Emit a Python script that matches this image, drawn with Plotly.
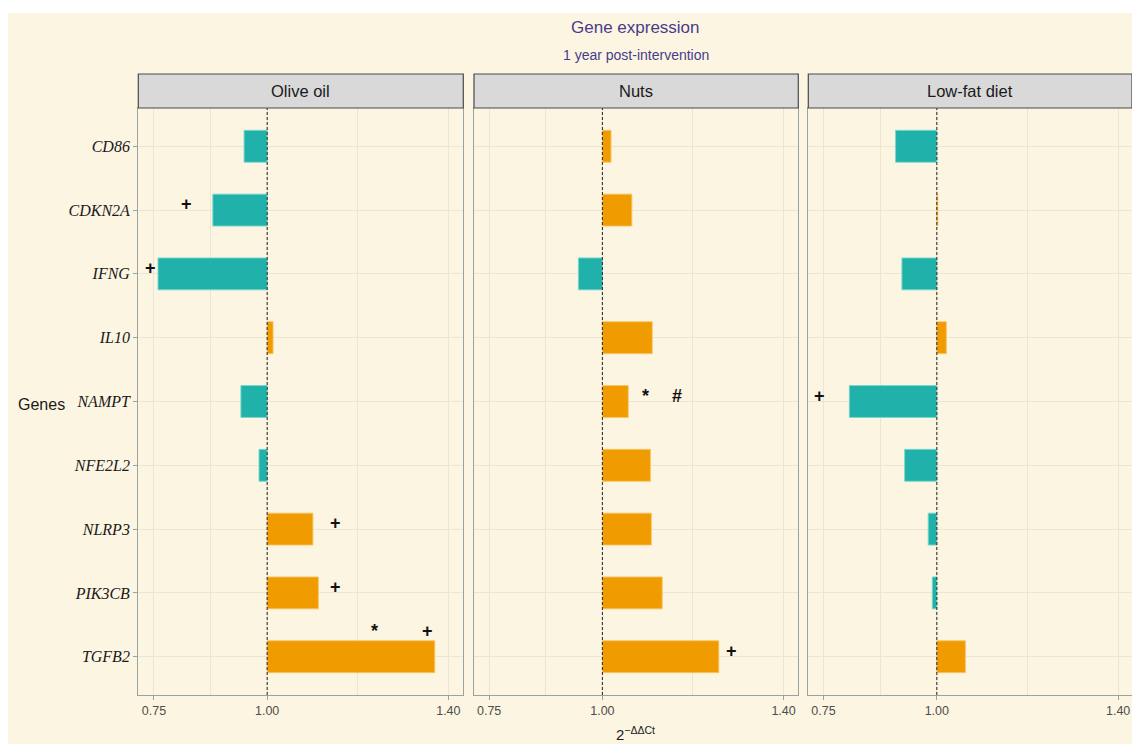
import plotly.graph_objects as go

# ---- data -------------------------------------------------------------
genes = ["CD86", "CDKN2A", "IFNG", "IL10", "NAMPT", "NFE2L2", "NLRP3", "PIK3CB", "TGFB2"]
diets = ["Olive oil", "Nuts", "Low-fat diet"]

olive_oil = [0.949, 0.880, 0.759, 1.013, 0.942, 0.982, 1.101, 1.113, 1.370]
nuts      = [1.019, 1.065, 0.947, 1.110, 1.057, 1.106, 1.108, 1.132, 1.257]
low_fat   = [0.909, 1.002, 0.923, 1.021, 0.807, 0.929, 0.981, 0.990, 1.063]

# significance marks: (panel index, gene, x position, symbol, lift in px)
marks_panel  = [0, 0, 0, 0, 0, 0, 1, 1, 1, 2]
marks_gene   = ["CDKN2A", "IFNG", "NLRP3", "PIK3CB", "TGFB2", "TGFB2", "NAMPT", "NAMPT", "TGFB2", "NAMPT"]
marks_x      = [0.823, 0.743, 1.151, 1.151, 1.236, 1.353, 1.096, 1.164, 1.285, 0.741]
marks_symbol = ["+", "+", "+", "+", "*", "+", "*", "#", "+", "+"]
marks_lift   = [6, 6, 6, 6, 26, 26, 6, 6, 6, 6]

x_ticks = [0.75, 1.00, 1.40]
x_minor = [0.875, 1.20]

# ---- styling ----------------------------------------------------------
W, H = 1132, 744
BG = "#FCF5E2"
GRID = "#ECE5D3"
BORDER = "#9AA3A3"
TEAL = "#20B2AA"
ORANGE = "#F09B00"
TITLE_COL = "#483D8B"

panel_px = [(138.3, 463.3), (474.0, 798.3), (808.3, 1132.0)]
x_ranges = [[0.7155, 1.4330], [0.7165, 1.4325], [0.7165, 1.4305]]
panel_top, panel_bottom = 108, 695
strip_top = 74

def fx(px):
    return px / W

def fy(py):
    return (H - py) / H

values = [olive_oil, nuts, low_fat]

fig = go.Figure()

shapes = [
    # framed beige background
    dict(type="rect", xref="paper", yref="paper", x0=fx(8), x1=1.0, y0=0, y1=fy(13),
         fillcolor=BG, line=dict(width=0), layer="below"),
]
annotations = []

for i, (diet, vals) in enumerate(zip(diets, values)):
    sfx = "" if i == 0 else str(i + 1)
    xa, ya = "x" + sfx, "y" + sfx
    colors = [TEAL if v < 1 else ORANGE for v in vals]
    outline = ["rgba(120,215,205,0.9)" if v < 1 else "rgba(248,196,100,0.9)" for v in vals]
    fig.add_trace(go.Bar(
        y=genes, x=[v - 1 for v in vals], base=1, orientation="h",
        width=0.5, marker=dict(color=colors, line=dict(color=outline, width=1)),
        xaxis=xa, yaxis=ya, showlegend=False, name=diet,
        hovertemplate="%{y}: %{customdata:.3f}<extra>" + diet + "</extra>",
        customdata=vals,
    ))

    x0, x1 = panel_px[i]
    axis_common = dict(showline=True, linecolor=BORDER, linewidth=1.4, mirror=True,
                       zeroline=False)
    fig.layout["xaxis" + sfx] = dict(
        domain=[fx(x0), fx(x1)], range=x_ranges[i], anchor=ya,
        tickvals=x_ticks, ticktext=["0.75", "1.00", "1.40"],
        ticks="outside", ticklen=4, tickcolor=BORDER,
        tickfont=dict(family="Arial", size=12.5, color="#4D4D4D"),
        showgrid=True, gridcolor=GRID, gridwidth=1,
        minor=dict(tickvals=x_minor, showgrid=True, gridcolor=GRID, gridwidth=1, ticks=""),
        automargin=False, **axis_common,
    )
    fig.layout["yaxis" + sfx] = dict(
        domain=[fy(panel_bottom), fy(panel_top)], anchor=xa,
        type="category", categoryorder="array", categoryarray=genes,
        range=[8.6, -0.6],
        showticklabels=(i == 0),
        ticks="outside" if i == 0 else "", ticklen=4, tickcolor=BORDER,
        tickfont=dict(family="Liberation Serif", size=16, color="#1A1A1A", style="italic"),
        showgrid=True, gridcolor=GRID, gridwidth=1,
        automargin=False, **axis_common,
    )

    # reference line at fold change 1
    shapes.append(dict(type="line", xref=xa, yref=ya + " domain", x0=1, x1=1, y0=0, y1=1,
                       line=dict(color="#333333", width=1.1, dash="3px,2px")))
    # facet strip
    shapes.append(dict(type="rect", xref="paper", yref="paper",
                       x0=fx(x0), x1=fx(x1), y0=fy(panel_top), y1=fy(strip_top),
                       fillcolor="#D9D9D9", line=dict(color="#4A4A4A", width=1.2)))
    annotations.append(dict(xref="paper", yref="paper", x=fx((x0 + x1) / 2),
                            y=fy((panel_top + strip_top) / 2), text=diet, showarrow=False,
                            xanchor="center", yanchor="middle",
                            font=dict(family="Arial", size=16.5, color="#1A1A1A")))

# significance symbols
for p, g, xv, sym, lift in zip(marks_panel, marks_gene, marks_x, marks_symbol, marks_lift):
    sfx = "" if p == 0 else str(p + 1)
    annotations.append(dict(xref="x" + sfx, yref="y" + sfx, x=xv, y=g, text=sym,
                            showarrow=False, xanchor="center", yanchor="middle",
                            yshift=lift,
                            font=dict(family="Arial", size=18, color="#111111", weight="bold")))

# titles
annotations += [
    dict(xref="paper", yref="paper", x=fx(635.5), y=fy(28), text="Gene expression",
         showarrow=False, xanchor="center", yanchor="middle",
         font=dict(family="Arial", size=17, color=TITLE_COL)),
    dict(xref="paper", yref="paper", x=fx(635.5), y=fy(55), text="1 year post-intervention",
         showarrow=False, xanchor="center", yanchor="middle",
         font=dict(family="Arial", size=14, color=TITLE_COL)),
    dict(xref="paper", yref="paper", x=fx(635.5), y=fy(733), text="2<sup>\u2212\u0394\u0394Ct</sup>",
         showarrow=False, xanchor="center", yanchor="middle",
         font=dict(family="Arial", size=15, color="#1A1A1A")),
    dict(xref="paper", yref="paper", x=fx(41.5), y=fy(404), text="Genes",
         showarrow=False, xanchor="center", yanchor="middle",
         font=dict(family="Arial", size=16, color="#1A1A1A")),
]

fig.update_layout(
    width=W, height=H,
    margin=dict(l=0, r=0, t=0, b=0),
    paper_bgcolor="white", plot_bgcolor=BG,
    shapes=shapes, annotations=annotations,
    bargap=0.5, showlegend=False,
)

fig.write_html("out.html")
